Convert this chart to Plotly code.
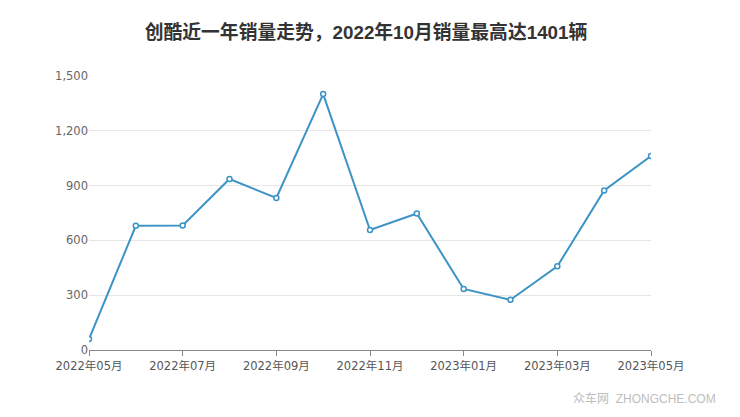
import plotly.graph_objects as go

months = ["2022年05月", "2022年06月", "2022年07月", "2022年08月", "2022年09月", "2022年10月",
          "2022年11月", "2022年12月", "2023年01月", "2023年02月", "2023年03月", "2023年04月", "2023年05月"]
sales = [60, 680, 682, 936, 832, 1401, 657, 747, 334, 275, 458, 873, 1062]
tick_labels = months[::2]
y_ticks = [0, 300, 600, 900, 1200, 1500]

fig = go.Figure()
fig.add_trace(go.Scatter(
    x=months, y=sales, mode="lines+markers",
    line=dict(color="#3b93c6", width=2),
    marker=dict(symbol="circle", size=5, color="white",
                line=dict(color="#3b93c6", width=1.5)),
    showlegend=False,
))

# page body adds an 8px offset; margins compensate for it
font_family = "Liberation Sans, Noto Sans CJK SC, sans-serif"
tick_family = "DejaVu Sans, Noto Sans CJK SC, sans-serif"
fig.update_layout(
    width=740, height=417,
    margin=dict(l=81, r=97, t=68, b=75),
    paper_bgcolor="white", plot_bgcolor="white",
    title=dict(text="<b>创酷近一年销量走势，2022年10月销量最高达1401辆</b>",
               x=(366 - 8) / 740, xanchor="center", y=1 - 24 / 417, yanchor="middle",
               font=dict(family=font_family, size=18.8, color="#333333")),
    font=dict(family=font_family),
)
fig.update_xaxes(
    type="category", categoryorder="array", categoryarray=months,
    range=[0, 12], tickvals=tick_labels, ticktext=tick_labels,
    showgrid=False, showline=True, linecolor="#888888", linewidth=1,
    ticks="outside", ticklen=5, tickcolor="#888888",
    tickfont=dict(size=11.5, color="#555555", family=tick_family),
)
fig.update_yaxes(
    range=[0, 1500], tickvals=y_ticks, tickformat=",",
    showgrid=True, gridcolor="#e6e6e6", gridwidth=1,
    zeroline=False, showline=False, ticks="", ticklen=0,
    tickfont=dict(size=11.5, color="#666666", family=tick_family),
)
fig.add_annotation(
    text="众车网  ZHONGCHE.COM", xref="paper", yref="paper",
    x=1.0 + 67 / 562, y=-(398 - 350) / 274, xanchor="right", yanchor="middle",
    showarrow=False, font=dict(size=12, color="#bdbdbd", family=font_family),
)
fig.write_html("out.html")
